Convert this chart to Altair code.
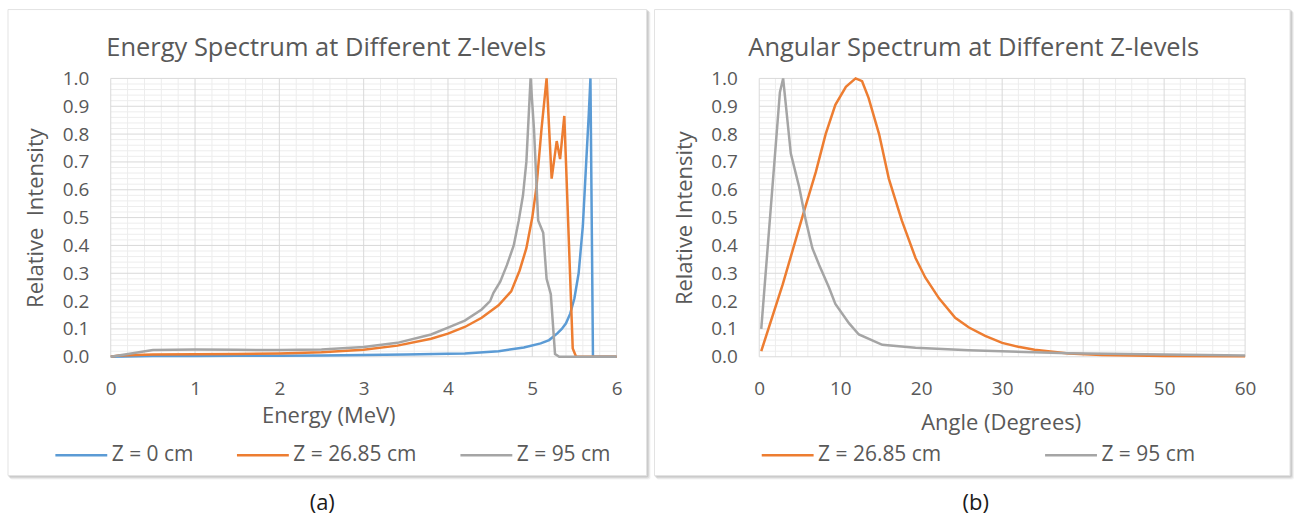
import altair as alt
import pandas as pd

# ---- Energy spectrum (MeV vs relative intensity) ----
energy_z0_e = [0, 0.5, 1, 1.5, 2, 2.5, 3, 3.5, 4.0, 4.2, 4.6, 4.9, 5.1, 5.2, 5.3, 5.35,
               5.4, 5.45, 5.5, 5.55, 5.6, 5.64, 5.67, 5.69, 5.72, 6.0]
energy_z0_i = [0.0, 0.003, 0.003, 0.004, 0.004, 0.005, 0.006, 0.008, 0.011, 0.012, 0.02,
               0.033, 0.048, 0.06, 0.085, 0.1, 0.12, 0.155, 0.21, 0.3, 0.47, 0.7, 0.87,
               1.0, 0.0, 0.0]

energy_z27_e = [0, 0.1, 0.5, 1, 1.5, 2, 2.5, 3.0, 3.4, 3.8, 4.0, 4.2, 4.4, 4.6, 4.75, 4.85,
                4.93, 5.0, 5.05, 5.11, 5.17, 5.23, 5.29, 5.33, 5.38, 5.48, 5.52, 6.0]
energy_z27_i = [0.0, 0.005, 0.008, 0.009, 0.01, 0.012, 0.016, 0.025, 0.04, 0.065, 0.083,
                0.107, 0.14, 0.185, 0.235, 0.31, 0.39, 0.5, 0.61, 0.82, 1.0, 0.64, 0.775,
                0.71, 0.865, 0.03, 0.0, 0.0]

energy_z95_e = [0, 0.5, 1, 1.5, 2, 2.5, 3.0, 3.4, 3.8, 4.0, 4.2, 4.4, 4.5, 4.54, 4.62, 4.7,
                4.78, 4.84, 4.89, 4.93, 4.96, 4.98, 5.02, 5.07, 5.13, 5.17, 5.22, 5.27,
                5.32, 6.0]
energy_z95_i = [0.0, 0.024, 0.026, 0.025, 0.024, 0.026, 0.035, 0.05, 0.08, 0.105, 0.13,
                0.17, 0.2, 0.23, 0.27, 0.33, 0.40, 0.49, 0.58, 0.70, 0.88, 1.0, 0.82, 0.49,
                0.445, 0.28, 0.225, 0.01, 0.0, 0.0]

# ---- Angular spectrum (degrees vs relative intensity) ----
angle_z27_a = [0.25, 2.9, 5.3, 7.0, 8.2, 9.4, 10.7, 11.9, 12.7, 13.5, 14.8, 16.0, 17.6,
               19.3, 20.5, 22.2, 24.2, 25.9, 27.9, 30, 32, 34, 38.2, 42.3, 50, 60]
angle_z27_i = [0.02, 0.26, 0.5, 0.665, 0.8, 0.905, 0.97, 1.0, 0.99, 0.93, 0.8, 0.64, 0.49,
               0.355, 0.285, 0.21, 0.14, 0.105, 0.075, 0.05, 0.036, 0.025, 0.012, 0.006,
               0.003, 0.002]

angle_z95_a = [0.25, 2.55, 2.95, 3.9, 4.93, 5.75, 6.56, 7.4, 8.6, 9.4, 11.1, 12.3, 15.2,
               19.3, 25.9, 38.2, 50, 60]
angle_z95_i = [0.1, 0.95, 1.0, 0.73, 0.61, 0.49, 0.39, 0.33, 0.25, 0.19, 0.12, 0.08, 0.043,
               0.032, 0.023, 0.013, 0.008, 0.005]

series_names = ["Z = 0 cm", "Z = 26.85 cm", "Z = 95 cm"]
series_colors = ["#5B9BD5", "#ED7D31", "#A5A5A5"]

energy_ticks = [0, 1, 2, 3, 4, 5, 6]
angle_ticks = [0, 10, 20, 30, 40, 50, 60]
intensity_ticks = [round(i * 0.1, 1) for i in range(11)]

FONT = "Open Sans"
TEXT = "#595959"
W_E, W_A, H = 507, 487, 279


def panel(df_series, x_title, x_ticks, x_minor, width, title, caption, names, colors,
          y_title, legend_x, col_pad, cols, x_title_x, x_title_y, title_x, caption_x,
          frame_l, frame_r):
    xs = alt.Scale(domain=[x_ticks[0], x_ticks[-1]], nice=False, zero=False)
    ys = alt.Scale(domain=[0, 1], nice=False)
    x_axis = alt.Axis(
        values=x_ticks, format="d", grid=False, domain=False, ticks=False, tickSize=0,
        labelFlush=False, labelOverlap=False, labelPadding=23, labelFont=FONT,
        labelFontSize=19, labelColor=TEXT,
        title=x_title, titleFont=FONT, titleFontSize=22, titleFontWeight="normal",
        titleColor=TEXT, titleX=x_title_x, titleY=x_title_y, titleBaseline="middle",
        titleAlign="center", zindex=1)
    y_axis = alt.Axis(
        values=intensity_ticks, format=".1f", grid=False, domain=False, ticks=False,
        tickSize=0, labelFlush=False, labelOverlap=False, labelPadding=22,
        labelFont=FONT, labelFontSize=19, labelColor=TEXT,
        title=y_title, titleFont=FONT, titleFontSize=22, titleFontWeight="normal",
        titleColor=TEXT, titleAngle=270, titleX=-75, titleY=H / 2,
        titleBaseline="middle", titleAlign="center", zindex=1)
    one = pd.DataFrame({"k": [0]})

    # soft drop shadow + white card behind the plot
    shadows = [
        alt.Chart(one).mark_rect(fill="#000000", opacity=op, cornerRadius=2).encode(
            x=alt.value(frame_l + d - 1), x2=alt.value(frame_r + d + 1),
            y=alt.value(-69 + d - 1), y2=alt.value(398 + d + 1))
        for d, op in [(3, 0.05), (2, 0.07), (1, 0.09)]
    ]
    card = alt.Chart(one).mark_rect(fill="white", stroke="#E3E3E3", strokeWidth=1).encode(
        x=alt.value(frame_l), x2=alt.value(frame_r), y=alt.value(-69), y2=alt.value(398))

    y_minor = [round(i * 0.02, 2) for i in range(51) if i % 5]
    minor_x = alt.Chart(pd.DataFrame({"v": x_minor})).mark_rule(
        color="#EDEDED", strokeWidth=1).encode(x=alt.X("v:Q", scale=xs, axis=x_axis))
    minor_y = alt.Chart(pd.DataFrame({"v": y_minor})).mark_rule(
        color="#EDEDED", strokeWidth=1).encode(y=alt.Y("v:Q", scale=ys, axis=y_axis))
    major_x = alt.Chart(pd.DataFrame({"v": x_ticks})).mark_rule(
        color="#D9D9D9", strokeWidth=1).encode(x=alt.X("v:Q", scale=xs, axis=x_axis))
    major_y = alt.Chart(pd.DataFrame({"v": intensity_ticks})).mark_rule(
        color="#D9D9D9", strokeWidth=1).encode(y=alt.Y("v:Q", scale=ys, axis=y_axis))

    lines = alt.Chart(df_series).mark_line(strokeWidth=2.5).encode(
        x=alt.X("x:Q", scale=xs, axis=x_axis),
        y=alt.Y("intensity:Q", scale=ys, axis=y_axis),
        color=alt.Color("series:N", scale=alt.Scale(domain=names, range=colors),
                        legend=alt.Legend(
                            orient="none", legendX=legend_x, legendY=350,
                            direction="horizontal", columns=cols, title=None,
                            symbolType="stroke", symbolSize=2704, symbolStrokeWidth=2.5,
                            labelFont=FONT, labelFontSize=21, labelColor=TEXT,
                            labelOffset=3, columnPadding=col_pad, padding=0)),
        order=alt.Order("seq:Q"),
    )

    title_mark = alt.Chart(pd.DataFrame({"t": [title]})).mark_text(
        font=FONT, fontSize=25.5, color=TEXT, align="center", baseline="middle").encode(
        text="t:N", x=alt.value(title_x), y=alt.value(-30))
    caption_mark = alt.Chart(pd.DataFrame({"t": [caption]})).mark_text(
        font=FONT, fontSize=22, color="#1A1A1A", align="center", baseline="middle").encode(
        text="t:N", x=alt.value(caption_x), y=alt.value(426))

    return alt.layer(*shadows, card, minor_x, minor_y, major_x, major_y, lines,
                     title_mark, caption_mark).properties(width=width, height=H)


def long(pairs):
    rows = []
    for name, xs, ys in pairs:
        for j, (x, y) in enumerate(zip(xs, ys)):
            rows.append({"x": x, "intensity": y, "series": name, "seq": j})
    return pd.DataFrame(rows)


energy_df = long([
    (series_names[0], energy_z0_e, energy_z0_i),
    (series_names[1], energy_z27_e, energy_z27_i),
    (series_names[2], energy_z95_e, energy_z95_i),
])
angle_df = long([
    (series_names[1], angle_z27_a, angle_z27_i),
    (series_names[2], angle_z95_a, angle_z95_i),
])

energy_minor = [round(i * 0.2, 1) for i in range(31) if i % 5]
angle_minor = [i * 2 for i in range(31) if i % 5]

left = panel(energy_df, "Energy (MeV)", energy_ticks, energy_minor, W_E,
             "Energy Spectrum at Different Z-levels", "(a)", series_names, series_colors,
             "Relative\u00a0 Intensity", -57, 38, 3, 218, 59, 216, 212, -103, 537)
right = panel(angle_df, "Angle (Degrees)", angle_ticks, angle_minor, W_A,
              "Angular Spectrum at Different Z-levels", "(b)", series_names[1:],
              series_colors[1:], "Relative Intensity", 1, 98, 2, 242, 66, 215, 217,
              -105, 532)

chart = alt.hconcat(left, right, spacing=143, bounds="flush").resolve_scale(
    x="independent", y="independent", color="independent"
).resolve_legend(color="independent").properties(
    padding={"left": 7, "top": 8, "right": 0, "bottom": 0}
).configure_view(strokeWidth=0).configure(background="white")

chart.save("out.html", embed_options={"renderer": "svg", "actions": False})
